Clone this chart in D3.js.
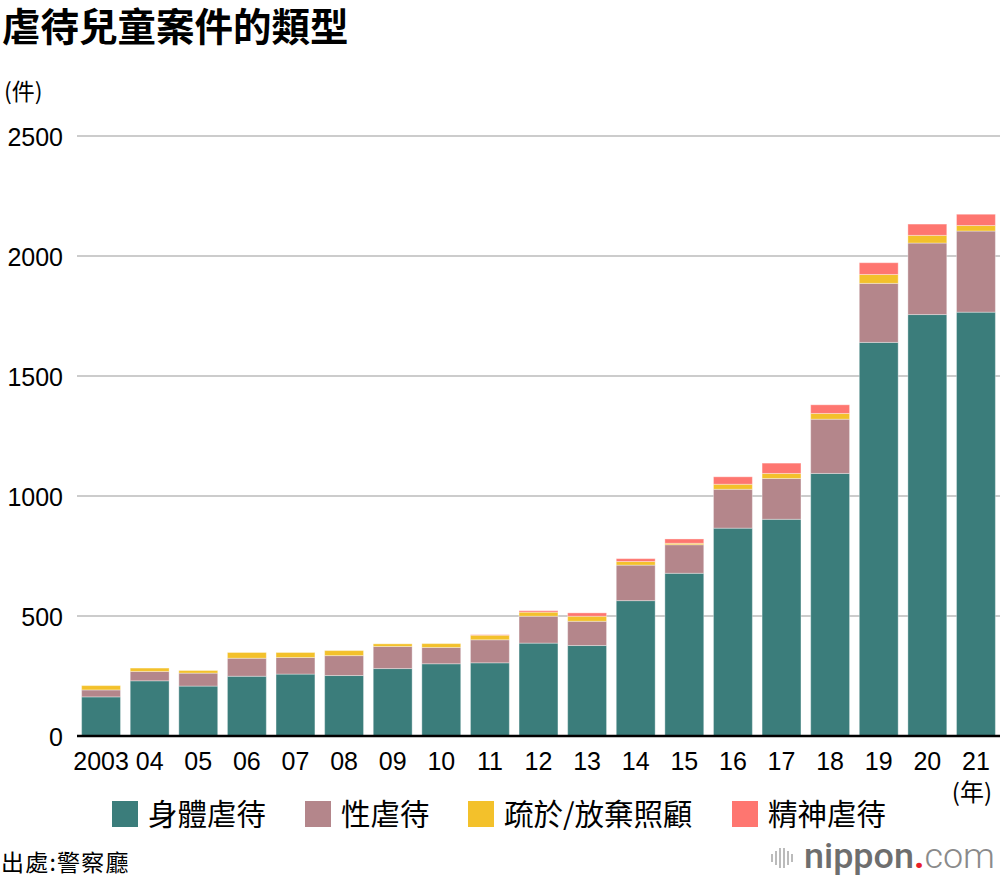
<!DOCTYPE html>
<html>
<head>
<meta charset="utf-8">
<script src="https://cdn.jsdelivr.net/npm/d3@7"></script>
<style>
  html, body { margin: 0; padding: 0; background: #fff; }
  svg { display: block; }
</style>
</head>
<body>
<svg id="chart" width="1000" height="880"></svg>
<script>
// ---- data ----
const years = ["2003","04","05","06","07","08","09","10","11","12","13","14","15","16","17","18","19","20","21"];
const seriesNames = ["身體虐待", "性虐待", "疏於/放棄照顧", "精神虐待"];
const physical = [163, 230, 208, 249, 258, 252, 281, 301, 305, 387, 377, 564, 678, 866, 903, 1094, 1640, 1756, 1766];
const sexual   = [29, 39, 54, 75, 69, 83, 92, 68, 96, 112, 101, 148, 119, 162, 170, 226, 246, 298, 338];
const neglect  = [18, 14, 11, 24, 21, 21, 11, 16, 19, 17, 21, 15, 6, 21, 21, 24, 37, 32, 23];
const psych    = [0, 0, 0, 0, 0, 0, 0, 0, 2, 6, 14, 12, 18, 31, 43, 36, 49, 47, 47];
const yTicks = [0, 500, 1000, 1500, 2000, 2500];
const colors = ["#3b7d7b", "#b4868b", "#f3c12b", "#fe7670"];

const svg = d3.select("#chart");
const cjk = "'Noto Sans CJK TC', 'Noto Sans CJK SC', sans-serif";
const latin = "'Liberation Sans', Arial, sans-serif";

const plotLeft = 77, plotRight = 1000, plotTop = 136, plotBottom = 736;

const x = d3.scaleBand().domain(years).range([plotLeft, plotRight]).paddingInner(0.2).paddingOuter(0.095);
const y = d3.scaleLinear().domain([0, 2500]).range([plotBottom, plotTop]);

// title
svg.append("text").attr("x", 2).attr("y", 41)
  .attr("font-family", cjk).attr("font-weight", 700).attr("font-size", 38.5)
  .attr("fill", "#000").text("虐待兒童案件的類型");

// unit
svg.append("text").attr("x", 4).attr("y", 100)
  .attr("font-family", cjk).attr("font-size", 23).attr("fill", "#000").text("(件)");

// gridlines
svg.append("g").selectAll("line").data(yTicks.filter(d => d > 0)).join("line")
  .attr("x1", plotLeft).attr("x2", plotRight)
  .attr("y1", d => y(d)).attr("y2", d => y(d))
  .attr("stroke", "#cccccc").attr("stroke-width", 2);

// y tick labels
svg.append("g").selectAll("text").data(yTicks).join("text")
  .attr("x", 63).attr("y", d => y(d) + 9.5)
  .attr("text-anchor", "end")
  .attr("font-family", latin).attr("font-size", 25).attr("fill", "#000")
  .text(d => d);

// stacked bars
const rows = years.map((yr, i) => ({ year: yr, s0: physical[i], s1: sexual[i], s2: neglect[i], s3: psych[i] }));
const stack = d3.stack().keys(["s0", "s1", "s2", "s3"])(rows);

svg.append("g").selectAll("g").data(stack).join("g")
  .attr("fill", (d, i) => colors[i])
  .selectAll("rect").data(d => d.filter(p => p[1] - p[0] > 0)).join("rect")
  .attr("x", d => x(d.data.year))
  .attr("width", x.bandwidth())
  .attr("y", d => y(d[1]))
  .attr("height", d => y(d[0]) - y(d[1]))
  .attr("stroke", "#ffffff").attr("stroke-opacity", 0.35).attr("stroke-width", 1);

// baseline
svg.append("line").attr("x1", plotLeft).attr("x2", plotRight)
  .attr("y1", y(0)).attr("y2", y(0))
  .attr("stroke", "#000").attr("stroke-width", 2.5);

// x tick labels
svg.append("g").selectAll("text").data(years).join("text")
  .attr("x", d => x(d) + x.bandwidth() / 2)
  .attr("y", 770)
  .attr("text-anchor", "middle")
  .attr("font-family", latin).attr("font-size", 25).attr("fill", "#000")
  .text(d => d);

svg.append("text").attr("x", x("21") + x.bandwidth() / 2 - 4).attr("y", 801)
  .attr("text-anchor", "middle")
  .attr("font-family", cjk).attr("font-size", 24).attr("fill", "#000").text("(年)");

// legend
const legendX = [112, 305, 468, 732];
const legend = svg.append("g");
seriesNames.forEach((name, i) => {
  legend.append("rect").attr("x", legendX[i]).attr("y", 801).attr("width", 26).attr("height", 26).attr("fill", colors[i]);
  legend.append("text").attr("x", legendX[i] + 36).attr("y", 825)
    .attr("font-family", cjk).attr("font-size", 29.5).attr("fill", "#000").text(name);
});

// source
svg.append("text").attr("x", 1).attr("y", 871)
  .attr("font-family", cjk).attr("font-size", 23).attr("letter-spacing", 1.2)
  .attr("fill", "#000").text("出處:警察廳");

// logo
const logo = svg.append("g");
const barsH = [8, 14, 20, 20, 14, 8];
barsH.forEach((h, i) => {
  logo.append("rect").attr("x", 771 + i * 4).attr("y", 858 - h / 2).attr("width", 2).attr("height", h).attr("fill", "#bbbbbb");
});
const lt = logo.append("text").attr("x", 804).attr("y", 868)
  .attr("font-family", "Roboto, 'Liberation Sans', sans-serif").attr("font-size", 38);
lt.append("tspan").attr("font-weight", 500).attr("fill", "#6e6e6e").text("nippon");
lt.append("tspan").attr("font-weight", 700).attr("fill", "#e8202a").text(".");
lt.append("tspan").attr("font-weight", 300).attr("fill", "#8a8a8a").text("com");
// fit logo text into the reference span (804 → 995)
const w = lt.node().getComputedTextLength();
if (w > 191) lt.attr("font-size", 38 * 191 / w);
</script>
</body>
</html>
